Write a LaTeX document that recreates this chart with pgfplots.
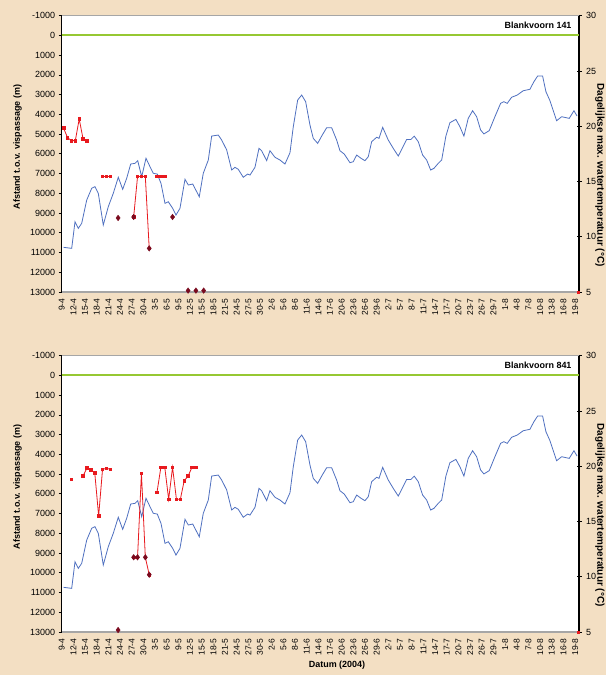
\documentclass[border=0pt]{standalone}
\usepackage{fontspec}
\setmainfont{Liberation Sans}
\usepackage{pgfplots}
\usepackage{pgfplotstable}
\pgfplotsset{compat=1.18}
\definecolor{bgc}{HTML}{F3DFC3}
\definecolor{tblue}{HTML}{4F70C0}
\definecolor{rred}{HTML}{E8191E}
\definecolor{dred}{HTML}{7A0A1E}
\definecolor{zgreen}{RGB}{150,200,50}
\definecolor{bgray}{HTML}{A6A6A6}

\pgfplotstableread{
d T
0 9.04
2.07 8.95
2.92 11.36
3.77 10.76
4.64 11.21
5.93 13.32
7.21 14.38
8.06 14.53
8.91 13.93
10.19 11.06
11.48 12.72
12.76 13.93
14.05 15.38
15.18 14.29
16.21 15.29
17.24 16.58
18.34 16.64
19.04 16.88
20.07 15.43
21.17 17.10
22.20 16.34
23.05 15.74
24.08 15.67
25.03 14.83
26.06 13.02
26.90 13.17
28.03 12.57
28.88 11.96
29.91 12.57
31.20 15.20
32.05 14.68
33.18 14.77
34.87 13.62
35.90 15.74
37.19 16.94
38.06 19.11
39.76 19.20
40.63 18.75
41.92 17.85
43.20 16.04
44.05 16.28
44.90 16.10
46.18 15.38
47.31 15.67
47.91 15.58
49.19 16.28
50.22 18.00
50.91 17.78
52.20 16.88
53.05 17.78
54.33 17.19
55.62 16.94
56.90 16.58
58.19 17.60
59.04 19.95
60.17 22.37
61.20 22.82
62.22 22.22
63.33 20.11
64.18 18.90
65.31 18.45
66.49 19.20
67.62 19.86
68.91 19.86
70.19 18.75
71.04 17.78
72.15 17.48
73.61 16.70
74.46 16.79
75.34 17.39
76.44 17.10
77.47 16.88
78.32 17.24
79.19 18.60
80.48 19.00
81.07 18.90
82.02 19.90
83.46 18.75
84.74 18.00
86.03 17.30
87.06 18.00
88.19 18.80
89.29 18.80
90.14 19.10
91.17 18.60
92.30 17.39
93.33 16.94
94.36 16.04
95.21 16.19
96.31 16.64
97.19 16.94
98.28 19.11
99.31 20.32
100.85 20.62
101.88 19.95
102.91 19.11
104.02 20.71
105.15 21.40
106.18 20.86
107.20 19.66
108.05 19.30
109.42 19.60
110.88 20.86
112.35 22.07
113.20 22.22
114.05 22.07
115.18 22.62
116.62 22.82
118.16 23.21
119.88 23.34
120.91 24.03
121.86 24.54
123.14 24.54
124.00 23.12
125.03 22.31
126.75 20.50
128.04 20.86
129.99 20.71
131.20 21.40
132.00 20.92
}\temp

\pgfplotstableread{
d v
0 4700
1 5180
2 5330
3 5330
4 4235
5 5250
6 5330
7 nan
10 7150
11 7150
12 7150
13 nan
18 9200
19 7150
20 7150
21 7150
22 10790
23 nan
24 7150
25 7150
26 7150
}\redA

\pgfplotstableread{
d v
14 9250
18 9200
22 10790
28 9200
32 12930
34 12930
36 12930
}\diaA

\pgfplotstableread{
d v
2 5263
3 nan
5 5096
6 4690
7 4792
8 4928
9 7122
10 4756
11 4705
12 4756
13 nan
18 9215
19 9215
20 4960
21 9215
22 10097
23 nan
24 5922
25 4655
26 4655
27 6277
28 4655
29 6277
30 6277
31 5333
32 5096
33 4655
34 4655
}\redB

\pgfplotstableread{
d v
14 12900
18 9215
19 9215
21 9215
22 10097
}\diaB

\pgfplotstableread{
d v
0 0
133 0
}\zeroline

\pgfplotsset{
  base/.style={scale only axis, width=517.3bp, height=276.3bp,
    xmin=0, xmax=133, anchor=south west,
    scaled y ticks=false,
    /pgf/number format/assume math mode=true,
    /pgf/number format/1000 sep={},
    tick label style={font=\fontsize{9}{10}\selectfont},
    label style={font=\bfseries\fontsize{9}{10}\selectfont}},
  tempax/.style={base, axis x line=none, axis y line*=right,
    ymin=5, ymax=30, ytick={5,10,...,30},
    y axis line style={black, line width=1.2pt},
    ytick style={black, line width=0.8pt},
    tick align=center, major tick length=5bp,
    ylabel={Dagelijkse max. watertemperatuur (°C)},
    ylabel style={at={(axis description cs:1.0406,0.4235)}, anchor=center, rotate=180, font=\bfseries\fontsize{10}{11}\selectfont},
    yticklabel style={xshift=1bp}},
  distax/.style={base, clip=false, separate axis lines,
    x axis line style={bgray, line width=1.3pt},
    y axis line style={black, line width=1.2pt},
    ytick pos=left, ymin=-1000, ymax=13000, y dir=reverse,
    ytick={-1000,0,...,13000},
    tick align=outside, major tick length=3bp,
    ytick style={black, line width=0.8pt},
    xtick={0,3,...,132},
    xticklabels={9-4,12-4,15-4,18-4,21-4,24-4,27-4,30-4,3-5,6-5,9-5,12-5,15-5,18-5,21-5,24-5,27-5,30-5,2-6,5-6,8-6,11-6,14-6,17-6,20-6,23-6,26-6,29-6,2-7,5-7,8-7,11-7,14-7,17-7,20-7,23-7,26-7,29-7,1-8,4-8,7-8,10-8,13-8,16-8,19-8},
    xtick style={draw=none},
    xticklabel style={rotate=90, anchor=east, font=\fontsize{8.5}{10}\selectfont},
    ylabel={Afstand t.o.v. vispassage (m)},
    ylabel style={at={(axis description cs:-0.0851,0.525)}, anchor=center}},
  zline/.style={draw=zgreen, line width=2pt, mark=none, forget plot},
  tline/.style={tblue, line width=0.8pt},
  rline/.style={rred, line width=0.8pt, mark=square*, mark size=1.3pt, unbounded coords=jump},
  dmark/.style={only marks, mark=diamond*, mark size=2.8pt, dred},
}

\begin{document}
\begin{tikzpicture}
\fill[bgc] (0,0) rectangle (606bp,675bp);
\useasboundingbox (0,0) rectangle (606bp,675bp);
\fill[white] (61.7bp,383bp) rectangle ++(517.3bp,276.3bp);
\fill[white] (61.7bp,43bp) rectangle ++(517.3bp,276.3bp);

% ---------- upper panel ----------
\begin{axis}[tempax, at={(61.7bp,383bp)}]
\addplot[tline] table[x expr=\thisrow{d}+0.5, y=T] {\temp};
\node[anchor=east, font=\bfseries\fontsize{9}{10}\selectfont] at (rel axis cs:1,1) [xshift=-4bp, yshift=-9.5bp] {Blankvoorn 141};
\end{axis}
\begin{axis}[distax, at={(61.7bp,383bp)}]
\addplot[zline] table[x=d, y=v] {\zeroline};
\addplot[rline] table[x expr=\thisrow{d}+0.5, y=v] {\redA};
\addplot[dmark] table[x expr=\thisrow{d}+0.5, y=v] {\diaA};
\addplot[only marks, mark=square*, mark size=1.2pt, rred] coordinates {(132.8,13000)};
\end{axis}

% ---------- lower panel ----------
\begin{axis}[tempax, at={(61.7bp,43bp)}]
\addplot[tline] table[x expr=\thisrow{d}+0.5, y=T] {\temp};
\node[anchor=east, font=\bfseries\fontsize{9}{10}\selectfont] at (rel axis cs:1,1) [xshift=-4bp, yshift=-9.5bp] {Blankvoorn 841};
\end{axis}
\begin{axis}[distax, at={(61.7bp,43bp)}]
\addplot[zline] table[x=d, y=v] {\zeroline};
\addplot[rline] table[x expr=\thisrow{d}+0.5, y=v] {\redB};
\addplot[dmark] table[x expr=\thisrow{d}+0.5, y=v] {\diaB};
\addplot[only marks, mark=square*, mark size=1.2pt, rred] coordinates {(132.8,13000)};
\end{axis}

\node[font=\bfseries\fontsize{9}{10}\selectfont] at (337bp,10bp) {Datum (2004)};
\end{tikzpicture}
\end{document}
